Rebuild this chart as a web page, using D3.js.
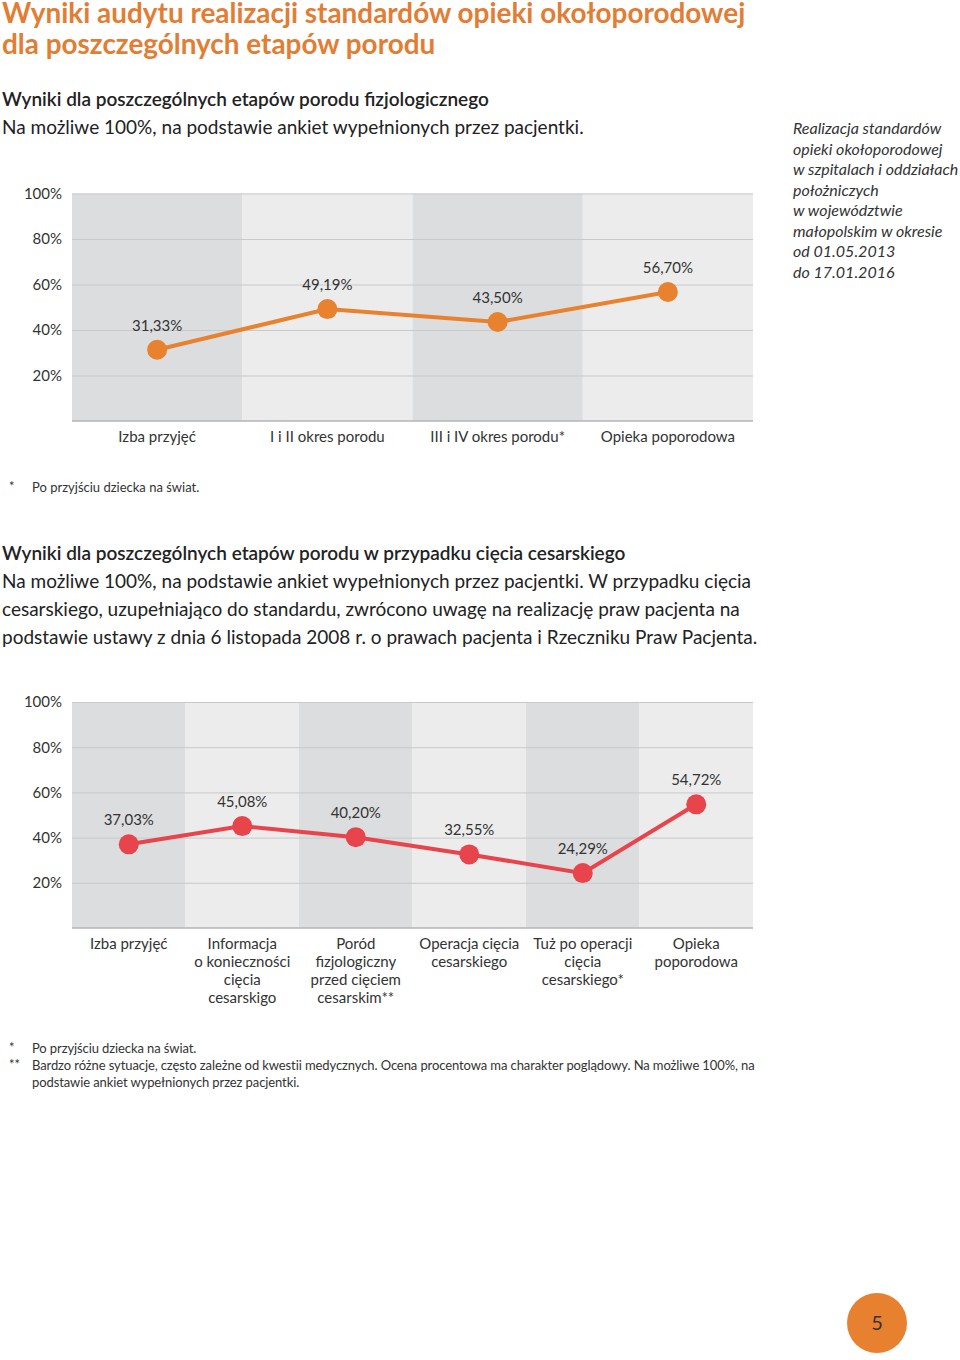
<!DOCTYPE html>
<html><head><meta charset="utf-8">
<script src="https://cdn.jsdelivr.net/npm/d3@7"></script>
<style>
html,body{margin:0;padding:0;background:#fff;}
svg{display:block;font-family:Lato,"Open Sans",sans-serif;}
</style></head>
<body>
<svg id="c" width="960" height="1360"></svg>
<script>
// ---- data ----
const yTicks = [20, 40, 60, 80, 100];
const categories1 = [["Izba przyjęć"], ["I i II okres porodu"], ["III i IV okres porodu*"], ["Opieka poporodowa"]];
const values1 = [31.33, 49.19, 43.50, 56.70];
const labels1 = ["31,33%", "49,19%", "43,50%", "56,70%"];
const categories2 = [
  ["Izba przyjęć"],
  ["Informacja", "o konieczności", "cięcia", "cesarskigo"],
  ["Poród", "fizjologiczny", "przed cięciem", "cesarskim**"],
  ["Operacja cięcia", "cesarskiego"],
  ["Tuż po operacji", "cięcia", "cesarskiego*"],
  ["Opieka", "poporodowa"]
];
const values2 = [37.03, 45.08, 40.20, 32.55, 24.29, 54.72];
const labels2 = ["37,03%", "45,08%", "40,20%", "32,55%", "24,29%", "54,72%"];

const svg = d3.select("#c");
const txt = "#333";

// ---- header text ----
svg.append("text").attr("x", 2).attr("y", 23).attr("font-size", 27.9).attr("font-weight", 700)
  .attr("fill", "#e27d33").text("Wyniki audytu realizacji standardów opieki okołoporodowej");
svg.append("text").attr("x", 2).attr("y", 54).attr("font-size", 27.9).attr("font-weight", 700)
  .attr("fill", "#e27d33").text("dla poszczególnych etapów porodu");

svg.append("text").attr("x", 2).attr("y", 106).attr("font-size", 19).attr("font-weight", 600)
  .attr("fill", "#222").text("Wyniki dla poszczególnych etapów porodu fizjologicznego");
svg.append("text").attr("x", 2).attr("y", 134).attr("font-size", 19)
  .attr("fill", "#222").text("Na możliwe 100%, na podstawie ankiet wypełnionych przez pacjentki.");

const side = ["Realizacja standardów", "opieki okołoporodowej", "w szpitalach i oddziałach", "położniczych",
  "w województwie", "małopolskim w okresie", "od 01.05.2013", "do 17.01.2016"];
svg.append("g").selectAll("text").data(side).join("text")
  .attr("x", 793).attr("y", (d, i) => 134 + i * 20.5).attr("font-size", 16).attr("font-style", "italic")
  .attr("fill", txt).text(d => d);

function chart(cfg) {
  const g = svg.append("g");
  const x = d3.scaleBand().domain(d3.range(cfg.cats.length)).range([72, 753]).padding(0);
  const y = d3.scaleLinear().domain([0, 100]).range([cfg.y0, cfg.y100]);
  // bands
  g.selectAll("rect.band").data(cfg.cats).join("rect").attr("class", "band")
    .attr("x", (d, i) => x(i)).attr("y", y(100)).attr("width", x.bandwidth()).attr("height", y(0) - y(100))
    .attr("fill", (d, i) => i % 2 === 0 ? "#dcdddf" : "#ececec");
  // grid
  const ax = d3.axisLeft(y).tickValues(yTicks).tickSize(-(753 - 72)).tickFormat(d => d + "%");
  const ag = g.append("g").attr("transform", "translate(72,0)").call(ax);
  ag.select(".domain").remove();
  ag.selectAll(".tick line").attr("stroke", "#c9c9cb").attr("stroke-width", 1);
  ag.selectAll(".tick text").attr("x", -10).attr("font-size", 15).attr("fill", txt)
    .attr("font-family", "Lato,sans-serif");
  g.append("line").attr("x1", 72).attr("x2", 753).attr("y1", y(0)).attr("y2", y(0))
    .attr("stroke", "#b5b5b7").attr("stroke-width", 1.5);
  // line
  const cx = i => x(i) + x.bandwidth() / 2;
  g.append("path").datum(cfg.vals)
    .attr("d", d3.line().x((d, i) => cx(i)).y(d => y(d)))
    .attr("fill", "none").attr("stroke", cfg.color).attr("stroke-width", 4);
  g.selectAll("circle").data(cfg.vals).join("circle")
    .attr("cx", (d, i) => cx(i)).attr("cy", d => y(d)).attr("r", 10).attr("fill", cfg.color);
  g.selectAll("text.val").data(cfg.labels).join("text").attr("class", "val")
    .attr("x", (d, i) => cx(i)).attr("y", (d, i) => y(cfg.vals[i]) - 19)
    .attr("text-anchor", "middle").attr("font-size", 15).attr("fill", txt).text(d => d);
  // categories
  cfg.cats.forEach((lines, i) => {
    g.append("g").selectAll("text").data(lines).join("text")
      .attr("x", cx(i)).attr("y", (d, j) => cfg.catY + j * 18)
      .attr("text-anchor", "middle").attr("font-size", 15).attr("fill", txt).text(d => d);
  });
}

chart({cats: categories1, vals: values1, labels: labels1, y0: 421, y100: 193.5, catY: 442, color: "#e8822f"});

svg.append("text").attr("x", 9).attr("y", 491).attr("font-size", 13).attr("fill", txt).text("*");
svg.append("text").attr("x", 32).attr("y", 492).attr("font-size", 13).attr("fill", txt).text("Po przyjściu dziecka na świat.");

svg.append("text").attr("x", 2).attr("y", 560).attr("font-size", 19).attr("font-weight", 600)
  .attr("fill", "#222").text("Wyniki dla poszczególnych etapów porodu w przypadku cięcia cesarskiego");
const para = ["Na możliwe 100%, na podstawie ankiet wypełnionych przez pacjentki. W przypadku cięcia",
  "cesarskiego, uzupełniająco do standardu, zwrócono uwagę na realizację praw pacjenta na",
  "podstawie ustawy z dnia 6 listopada 2008 r. o prawach pacjenta i Rzeczniku Praw Pacjenta."];
svg.append("g").selectAll("text").data(para).join("text")
  .attr("x", 2).attr("y", (d, i) => 588 + i * 28).attr("font-size", 19).attr("fill", "#222").text(d => d);

chart({cats: categories2, vals: values2, labels: labels2, y0: 928, y100: 702, catY: 949, color: "#e8444c"});

const fn = [["*", "Po przyjściu dziecka na świat."],
  ["**", "Bardzo różne sytuacje, często zależne od kwestii medycznych. Ocena procentowa ma charakter poglądowy. Na możliwe 100%, na"],
  ["", "podstawie ankiet wypełnionych przez pacjentki."]];
fn.forEach((f, i) => {
  svg.append("text").attr("x", 9).attr("y", 1052 + i * 17).attr("font-size", 13).attr("fill", txt).text(f[0]);
  svg.append("text").attr("x", 32).attr("y", 1053 + i * 17).attr("font-size", 13).attr("fill", txt)
    .attr("letter-spacing", -0.1).text(f[1]);
});

svg.append("circle").attr("cx", 877).attr("cy", 1323).attr("r", 30).attr("fill", "#e8812f");
svg.append("text").attr("x", 877).attr("y", 1330).attr("text-anchor", "middle").attr("font-size", 20)
  .attr("fill", "#333").text("5");
</script>
</body></html>
